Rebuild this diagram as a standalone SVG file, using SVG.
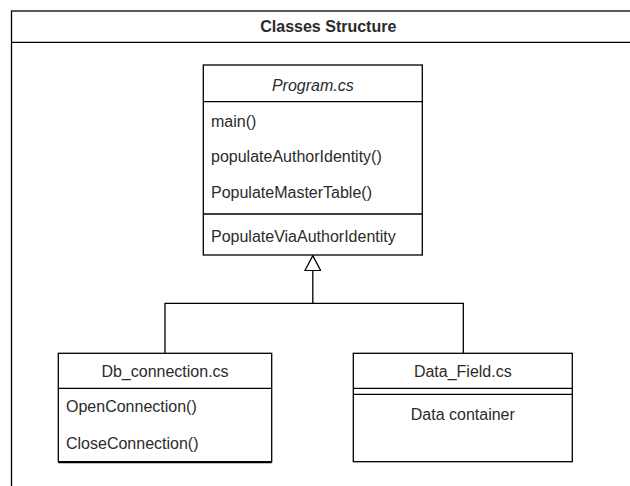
<svg xmlns="http://www.w3.org/2000/svg" width="630" height="486" viewBox="0 0 630 486">
<style>
  .box { fill: #ffffff; stroke: #000000; stroke-width: 1.3; }
  .sep { stroke: #000000; stroke-width: 1.3; fill: none; }
  .t { font-family: "Liberation Sans", Arial, sans-serif; font-size: 16px; fill: #2b2b2b; }
  .c { text-anchor: middle; }
  .edge { stroke: #000000; stroke-width: 1.3; fill: none; }
</style>
<defs>
  <marker id="inherit" viewBox="0 0 17 17" refX="0.5" refY="8.5" markerWidth="17" markerHeight="17" markerUnits="userSpaceOnUse" orient="auto">
    <path d="M0.5,0.5 L15.5,8.5 L0.5,16.5 Z" fill="#ffffff" stroke="#000000" stroke-width="1.3"/>
  </marker>
</defs>
<rect width="630" height="486" fill="#ffffff"/>
<g id="frame">
  <rect class="box" x="11.5" y="11" width="640" height="490"/>
  <line class="sep" x1="11.5" y1="42.3" x2="652" y2="42.3"/>
  <text class="t c" x="328.3" y="32" font-weight="bold">Classes Structure</text>
</g>
<g id="connectors">
  <path class="edge" d="M165,353.3 V303.3 H312.8 V270.7" marker-end="url(#inherit)"/>
  <path class="edge" d="M463.3,353.3 V303.3 H312.8"/>
</g>
<g id="program">
  <rect class="box" x="203.3" y="65" width="219" height="190"/>
  <line class="sep" x1="203.3" y1="101.7" x2="422.3" y2="101.7"/>
  <line class="sep" x1="203.3" y1="214" x2="422.3" y2="214"/>
  <text class="t c" x="312.8" y="90.5" font-style="italic">Program.cs</text>
  <text class="t" x="211" y="127">main()</text>
  <text class="t" x="211" y="162">populateAuthorIdentity()</text>
  <text class="t" x="211" y="198">PopulateMasterTable()</text>
  <text class="t" x="211" y="242">PopulateViaAuthorIdentity</text>
</g>
<g id="db_connection">
  <rect class="box" x="58.3" y="353.3" width="213.4" height="108.4"/>
  <line class="sep" x1="58.3" y1="388.3" x2="271.7" y2="388.3"/>
  <line x1="58.3" y1="462.3" x2="271.7" y2="462.3" stroke="#000000" stroke-width="2"/>
  <text class="t c" x="165" y="377">Db_connection.cs</text>
  <text class="t" x="66" y="412">OpenConnection()</text>
  <text class="t" x="66" y="448.5">CloseConnection()</text>
</g>
<g id="data_field">
  <rect class="box" x="353.3" y="353.3" width="219" height="108.4"/>
  <line class="sep" x1="353.3" y1="388.3" x2="572.3" y2="388.3"/>
  <line class="sep" x1="353.3" y1="394.3" x2="572.3" y2="394.3"/>
  <text class="t c" x="462.8" y="377">Data_Field.cs</text>
  <text class="t c" x="462.8" y="419.5">Data container</text>
</g>
</svg>
